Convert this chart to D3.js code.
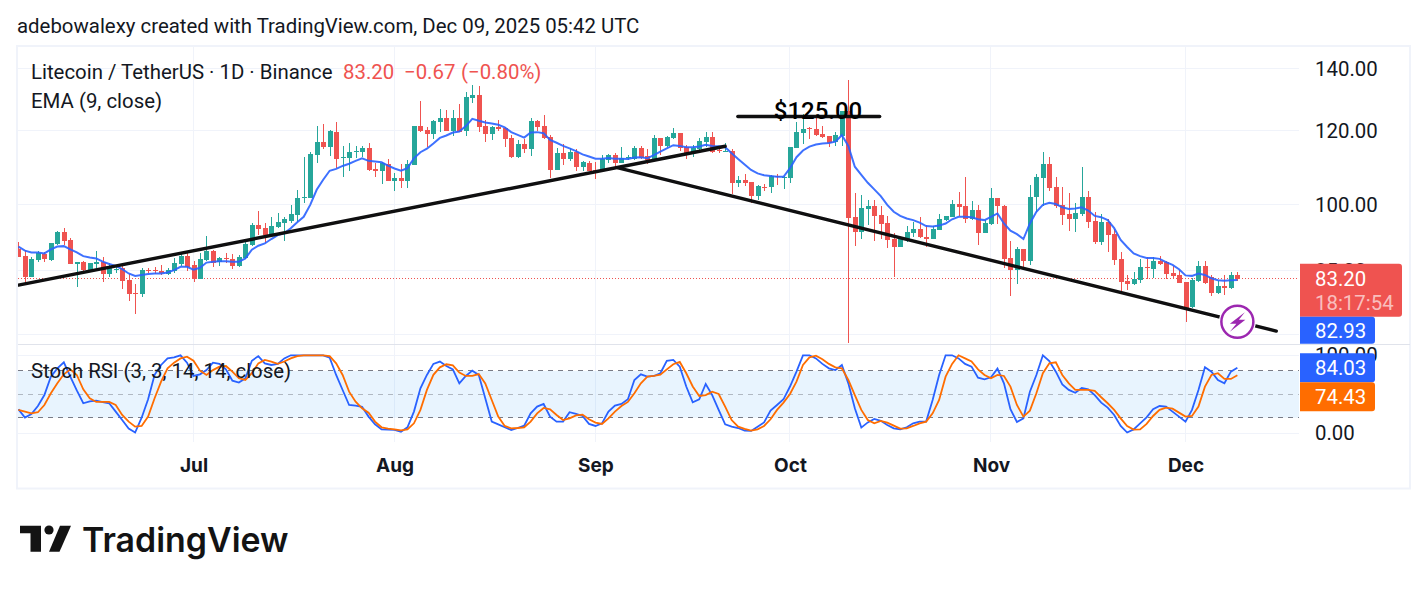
<!DOCTYPE html>
<html>
<head>
<meta charset="utf-8">
<title>LTCUSDT daily</title>
<script src="https://cdn.jsdelivr.net/npm/d3@7/dist/d3.min.js"></script>
<style>
  html, body { margin: 0; padding: 0; background: #fff; }
  svg { display: block; }
  text { font-family: Roboto, sans-serif; fill: #131722; }
</style>
</head>
<body>
<svg id="chart" width="1428" height="591"></svg>
<script>
// Daily LTC/USDT session values, one entry per day from 4 Jun 2025.
const firstSession = "2025-06-04";

const opens = [
  89.5,88.0,83.6,87.2,88.5,87.2,90.7,93.4,91.6,86.2,
  86.8,85.0,86.4,86.8,84.2,85.1,85.4,82.9,80.3,80.1,
  85.0,85.0,84.9,84.2,84.9,86.2,88.0,86.1,83.2,87.2,
  89.2,86.8,87.5,87.4,85.9,87.5,90.5,95.0,94.4,92.7,
  94.5,95.6,96.1,97.5,101.7,101.7,113.0,116.7,115.4,119.7,
  112.3,112.2,114.0,113.9,115.0,109.2,108.5,110.5,106.1,106.8,
  106.1,110.3,121.4,120.2,119.0,122.5,123.8,119.9,123.8,120.0,
  130.1,131.1,121.4,119.0,121.1,120.8,117.9,112.4,116.1,114.7,
  122.9,121.4,118.2,108.9,113.6,111.9,113.9,109.7,110.8,108.9,
  108.6,111.6,113.0,110.8,112.2,111.9,115.0,112.8,111.6,117.9,
  115.6,117.9,119.4,115.2,113.5,114.7,116.7,118.2,114.3,114.0,
  114.1,105.5,106.2,105.7,102.1,104.4,104.4,107.3,106.9,106.8,
  115.0,119.4,120.7,120.4,119.0,118.5,116.7,118.5,126.1,96.9,
  93.3,99.0,99.6,97.4,95.5,91.8,90.0,91.6,93.2,94.1,
  92.3,91.8,93.9,96.2,96.9,100.1,99.6,96.5,98.6,93.2,
  95.3,101.6,99.6,87.6,85.0,89.6,86.9,101.9,106.8,110.5,
  104.4,99.9,97.7,96.5,97.7,101.9,96.0,91.1,95.8,93.0,
  87.4,82.7,82.1,82.9,85.7,85.2,86.9,86.8,84.4,84.0,
  82.6,77.6,82.7,85.9,83.6,80.3,81.7,81.3,83.9
];
const highs = [
  91.1,89.4,87.7,89.2,88.8,90.9,93.7,94.3,92.0,86.8,
  87.0,86.6,89.1,87.7,86.5,85.9,86.1,84.1,82.1,85.4,
  85.5,85.6,86.1,85.4,87.5,88.6,88.6,87.0,88.6,92.5,
  89.4,87.9,88.6,88.5,88.3,91.6,95.4,98.4,95.6,97.0,
  98.0,97.0,99.9,103.7,112.4,114.0,121.3,122.0,120.1,122.5,
  115.6,116.3,115.6,115.6,116.3,110.7,111.2,111.9,108.0,110.4,
  111.6,121.4,129.2,121.0,123.2,126.7,126.3,126.3,128.2,132.1,
  134.4,134.1,123.2,121.4,123.2,121.2,118.8,117.3,117.5,123.8,
  123.2,124.7,118.7,115.0,116.2,115.0,114.6,111.4,111.3,111.2,
  113.0,113.3,113.5,115.2,113.0,115.6,115.6,114.7,118.8,117.9,
  118.5,120.8,119.4,115.9,115.9,117.8,119.5,119.6,115.6,116.3,
  114.7,107.3,107.8,105.7,104.9,105.2,107.5,107.8,107.3,115.3,
  122.7,125.0,121.0,124.1,121.4,118.5,119.6,126.1,136.1,102.8,
  102.4,101.1,101.1,99.6,97.2,93.1,92.1,94.8,95.8,96.9,
  95.0,94.7,97.6,97.2,101.1,103.1,106.9,100.9,99.9,96.2,
  104.2,101.6,99.9,91.4,90.0,89.6,105.0,107.8,113.9,112.5,
  107.0,104.4,102.9,100.4,109.7,103.4,98.2,97.7,96.5,94.1,
  88.9,84.0,84.6,87.4,87.8,87.8,88.0,86.9,85.9,85.0,
  82.6,83.3,86.9,86.9,84.0,82.7,84.0,84.6,84.6
];
const lows = [
  87.7,82.3,83.6,86.8,86.8,86.9,90.5,90.5,86.2,81.6,
  84.5,84.7,85.4,82.6,83.6,84.5,81.1,78.7,76.3,79.6,
  84.3,84.1,83.9,83.9,84.5,85.9,84.9,82.6,83.2,86.9,
  85.7,85.9,86.6,85.3,85.7,87.3,90.2,92.7,90.8,92.3,
  94.3,91.4,95.4,95.8,100.3,101.5,110.9,114.7,112.7,109.4,
  106.9,108.5,112.1,112.4,108.5,106.9,105.2,106.1,103.5,104.2,
  104.2,110.3,119.6,115.2,117.6,119.5,119.9,118.6,119.7,118.6,
  128.6,119.5,116.8,117.3,119.9,115.2,112.3,112.1,113.5,112.8,
  119.8,117.5,106.8,108.9,110.3,111.3,108.6,108.5,108.6,106.5,
  108.3,110.7,109.6,110.8,111.5,111.6,111.8,110.6,111.4,113.0,
  115.2,117.6,114.1,112.0,112.4,113.5,115.2,113.7,113.7,113.8,
  102.5,104.5,104.8,100.3,101.1,103.3,103.0,104.9,104.0,105.5,
  115.0,116.0,117.6,118.6,117.8,115.3,115.6,115.6,70.9,90.2,
  91.7,95.0,91.4,91.7,89.8,83.6,90.0,91.1,92.3,92.1,
  90.1,91.8,93.9,96.1,96.9,97.2,95.4,96.2,90.4,93.2,
  95.0,95.3,85.4,79.7,82.1,85.4,86.1,98.2,99.5,103.4,
  99.1,95.0,93.6,93.4,97.2,94.4,90.7,90.5,88.9,86.1,
  80.1,80.9,81.9,82.3,83.2,83.4,86.1,83.2,83.2,82.3,
  74.7,77.4,82.6,82.1,79.7,80.1,79.9,81.1,82.7
];
const closes = [
  87.7,83.6,87.4,88.6,87.3,90.9,93.5,91.4,86.2,86.8,
  85.0,86.5,86.8,84.2,85.4,85.2,82.8,80.1,80.2,85.0,
  84.9,84.9,84.3,85.0,86.5,88.1,85.7,83.2,87.4,89.2,
  86.6,87.6,87.4,85.9,87.8,90.7,95.0,94.1,92.7,94.8,
  95.8,96.5,97.7,101.6,101.9,113.3,116.7,115.4,119.8,112.0,
  112.5,113.9,114.1,115.0,108.9,108.5,110.7,106.1,106.8,106.1,
  110.4,121.4,119.9,119.0,122.9,123.8,119.9,123.8,119.7,130.5,
  131.1,121.2,119.1,121.1,120.5,117.6,112.5,116.2,114.8,122.9,
  121.0,117.9,108.9,113.6,111.9,113.9,109.7,111.0,108.6,108.6,
  111.9,113.0,110.8,112.2,112.4,115.0,112.3,111.6,117.9,115.6,
  118.2,119.4,115.1,113.5,115.1,117.0,118.2,114.0,114.1,114.1,
  105.5,106.2,105.5,102.1,104.7,104.3,107.2,107.0,107.1,115.3,
  119.6,120.4,120.4,118.8,118.2,116.5,118.8,126.1,96.8,93.3,
  99.1,99.6,97.2,95.3,91.6,90.0,91.8,93.4,94.1,92.2,
  91.8,94.1,96.5,97.2,100.1,99.4,96.5,98.6,93.2,95.5,
  101.6,99.5,87.4,85.0,89.6,86.9,101.9,107.0,110.5,104.2,
  99.6,97.4,96.5,97.9,101.9,95.8,91.1,95.8,92.7,87.2,
  82.6,82.1,83.2,85.7,85.5,86.9,86.4,84.2,83.8,82.3,
  77.4,82.9,85.9,82.3,80.3,81.7,81.4,83.9,83.2
];

// EMA (9, close) overlay
const emaValues = [
  90.1,89.2,88.8,88.8,88.6,89.5,90.1,90.2,89.5,88.8,
  88,87.7,87.5,86.8,86.3,85.9,85.2,84.3,83.8,84,
  84.2,84.3,84.3,84.5,85,85.7,85.7,85.1,85.5,86.6,
  86.8,86.9,86.9,86.8,86.8,87.5,89.4,90.3,90.8,91.8,
  92.7,93.1,94.3,95.7,97,99.9,103.7,106.3,108.7,109.2,
  110,110.6,111.4,112.1,111.4,111.2,111,110.1,109.3,108.7,
  109.4,112.1,113.8,114.8,116.3,117.9,118.6,119.5,119.8,121.4,
  123.6,123,122.5,122.2,121.8,121,119.6,118.8,118,119.5,
  119.6,119.3,117.3,116.5,115.6,114.9,114.1,113.2,112.6,112,
  112,112.2,112,112,111.9,112.3,112.4,112.1,113,114,
  114.9,115.8,115.6,115.2,115.2,115.4,115.9,115.6,115.5,115.2,
  113.5,111.9,110.4,108.9,108,107.5,107.3,107.1,107.1,109.4,
  112.4,114.3,115.4,116,116.3,116.4,116.8,118.7,115.6,109.8,
  107.6,105.5,103.8,102.1,99.9,98.2,97.2,96.6,96.2,95.6,
  94.8,94.7,94.9,95.4,96.4,97,97,96.9,96.4,96.2,
  97,97.8,95.4,93.7,92.9,91.8,95.4,98.2,99.9,100.4,
  100.1,99.3,98.9,99,99.3,98.5,97.2,96.9,96.2,94.3,
  91.6,90,88.6,88,87.6,87.6,87.4,86.7,86.1,85.2,
  83.9,83.8,84.3,84,83.3,82.9,82.8,82.9,82.93
];

// Stoch RSI %K and %D
const stochK = [
  30.8,20.1,24.8,35,49,72.6,83.3,91,72.6,55,
  38.5,41,42,40,38.5,27.8,17,6,1,20,
  43.6,75,87.6,96,97.4,100,90.6,73.5,75.6,81,
  90.6,89,82,67.5,65,70.5,93,99,89.7,87.6,
  89,96,100,100,100,100,100,100,97,74.8,
  55.5,36.3,35.5,34,21.4,11.5,5,4.7,4.3,2,
  7.7,27.8,57.7,74.8,89,91.9,86.3,82,64.1,73.5,
  80.3,74.8,44.9,15,11.5,7.7,4.3,6.8,9.8,25.6,
  34.2,37.6,21.4,15,15,27,24.8,22.2,12,9.4,
  12.8,27.8,35.5,37.6,43.6,68.4,75.6,72.6,73.5,77,
  93,94,85.5,60,39.7,43.6,63.2,49,30,11.5,
  8.5,6.8,3.4,3,8.5,14,29,36.3,43.6,60,
  79,100,100,96,89,83.3,81,87.6,64,32,
  7.3,14,18.4,16,10.7,6.4,5,7.7,12.8,15,
  15,42.7,74.8,100,100,96,89,85.5,71.4,69.2,
  71.8,82.9,64.1,30.8,14.5,19.2,53.4,74.8,100,92.7,
  79,62.8,55.6,52,58,56.4,49,39.3,32.9,23.5,
  9.4,1,5,12.8,20.5,30.8,35,34.2,27.8,21.4,
  15,30,55.6,84.6,79,68.4,64.1,79,84.03
];
const stochD = [
  30,27.8,25.6,27,36.3,51.3,64.1,75.6,82,74.8,
  56.4,44.9,40.2,40.2,40.2,36.3,23.5,15,8.5,9.4,
  21.4,44.9,66.2,83.3,90.6,96,98.3,93,80.3,74.8,
  81,85.5,86.3,79,70.5,68.4,77,89.7,94,92,
  89,92,96,99,100,100,100,100,99,89.7,
  74.8,53.4,40.6,32,26.5,15,7.7,6,5,3.8,
  5,12.8,30,55.6,75,84.6,88.5,87,77.8,73.5,
  73.5,76,64,42.7,21.4,9.4,6.4,6.8,7.7,15,
  25.6,32.5,30.8,23.5,17,19.2,23,24,18,13.7,
  12,19.2,27.8,35,40.2,51.3,64.1,72.6,73.5,75.2,
  82,88.5,91.5,77,60,47.9,49,53.4,50.4,34.2,
  17,8.5,5.6,3.4,5,9.4,18,30,39.3,50.4,
  66.2,87.6,97.4,99.6,94.9,89,84.6,83.3,68.4,49,
  30,17,12.8,15.8,13.7,9.8,6,6.4,9.4,12.8,
  15,25.6,42.7,72.6,89,100,96,92,82,74.8,
  70.5,74.8,73.5,59.8,36.3,21.4,29,51.3,77,89.7,
  91,74.8,64.1,55.6,55.6,55.6,54.3,46.2,38.5,30,
  19.2,9.4,4.7,5,12,22.2,30,33,31.6,26.5,
  21.4,22.2,34.2,59.8,74.8,77,69.7,69.7,74.43
];

// Axis ticks
const monthTicks = ["2025-07-01","2025-08-01","2025-09-01","2025-10-01","2025-11-01","2025-12-01"];
const monthLabels = ["Jul","Aug","Sep","Oct","Nov","Dec"];
const priceTicks = [140, 120, 100, 85];
const priceGrid = [140, 120, 100, 85, 72.5];
const stochTicks = [100, 0];
const stochLevels = [80, 50, 20];

// Hand-drawn trend annotations: [date, price] end points
const risingTrend = [["2025-06-04", 81.9], ["2025-09-21", 115.5]];
const fallingTrend = [["2025-09-04T12:00Z", 109.5], ["2025-12-15T00:00Z", 73.1]];
const targetLevel = [["2025-09-22T23:00Z", 124.3], ["2025-10-14T20:00Z", 124.3]];
const targetLabel = "$125.00";
const signalMarker = ["2025-12-09", 74.8];

// Last-value tags
const lastPrice = 83.20, lastChange = -0.67, lastChangePct = -0.80, countdown = "18:17:54";
const lastEma = 82.93, lastK = 84.03, lastD = 74.43;

const palette = { up: "#26a69a", down: "#ef5350", grid: "#f0f3fa", frame: "#f0f3fa", sep: "#e0e3eb",
                  blue: "#2962ff", orange: "#ff6d00", purple: "#9c27b0", ink: "#131722", trend: "#0f0f10" };
const labelSize = 20.4;

const svg = d3.select("#chart");
const parseDay = s => new Date(s.length === 10 ? s + "T00:00:00Z" : s);
const start = parseDay(firstSession);
const dates = closes.map((_, i) => d3.utcDay.offset(start, i));

const plot = { left: 18, right: 1299, top: 46, paneBottom: 344.5, bottom: 442 };

const x = d3.scaleUtc().domain([parseDay(monthTicks[0]), parseDay(monthTicks[5])]).range([193.5, 1185.5]);
const y = d3.scaleLog().domain([72.5, 140]).range([334.4, 68.5]);
const yStoch = d3.scaleLinear().domain([0, 100]).range([433.3, 355.3]);

// Frame
svg.append("rect").attr("x", 17).attr("y", 46).attr("width", 1393).attr("height", 442.5)
  .attr("fill", "#fff").attr("stroke", palette.frame).attr("stroke-width", 2);

const defs = svg.append("defs");
defs.append("clipPath").attr("id", "pricePane").append("rect")
  .attr("x", plot.left).attr("y", plot.top).attr("width", plot.right - plot.left).attr("height", plot.paneBottom - plot.top);
defs.append("clipPath").attr("id", "stochPane").append("rect")
  .attr("x", plot.left).attr("y", plot.paneBottom).attr("width", plot.right - plot.left).attr("height", plot.bottom - plot.paneBottom);

// Grid
const grid = svg.append("g").attr("shape-rendering", "crispEdges").attr("stroke", palette.grid);
grid.selectAll(".vgrid").data(monthTicks).join("line").attr("class", "vgrid")
  .attr("x1", d => x(parseDay(d))).attr("x2", d => x(parseDay(d))).attr("y1", plot.top).attr("y2", plot.bottom);
grid.selectAll(".hgrid").data(priceGrid).join("line").attr("class", "hgrid")
  .attr("x1", plot.left).attr("x2", plot.right).attr("y1", d => y(d)).attr("y2", d => y(d));
grid.selectAll(".sgrid").data(stochTicks).join("line").attr("class", "sgrid")
  .attr("x1", plot.left).attr("x2", plot.right).attr("y1", d => yStoch(d)).attr("y2", d => yStoch(d));

// Pane separator
svg.append("line").attr("x1", plot.left).attr("x2", plot.right + 111).attr("y1", plot.paneBottom).attr("y2", plot.paneBottom)
  .attr("stroke", palette.sep).attr("shape-rendering", "crispEdges");

// Stoch band and levels
svg.append("rect").attr("x", plot.left).attr("width", plot.right - plot.left)
  .attr("y", yStoch(stochLevels[0])).attr("height", yStoch(stochLevels[2]) - yStoch(stochLevels[0]))
  .attr("fill", "#2196f3").attr("fill-opacity", 0.1);
svg.selectAll(".level").data(stochLevels).join("line").attr("class", "level")
  .attr("x1", plot.left).attr("x2", plot.right).attr("y1", d => yStoch(d)).attr("y2", d => yStoch(d))
  .attr("stroke", "#787b86").attr("stroke-dasharray", "5 5").attr("shape-rendering", "crispEdges")
  .attr("stroke-opacity", d => d === 50 ? 0.5 : 1);

// Last price line
svg.append("line").attr("x1", plot.left).attr("x2", plot.right).attr("y1", y(lastPrice)).attr("y2", y(lastPrice))
  .attr("stroke", palette.down).attr("stroke-dasharray", "1 2").attr("shape-rendering", "crispEdges");

// Candles
const candles = svg.append("g").attr("clip-path", "url(#pricePane)");
const rows = d3.range(closes.length).map(i => ({ date: dates[i], o: opens[i], h: highs[i], l: lows[i], c: closes[i] }));
const colour = d => d.c >= d.o ? palette.up : palette.down;
const snap = v => Math.round(v) + 0.5;
candles.selectAll(".wick").data(rows).join("line").attr("class", "wick")
  .attr("x1", d => snap(x(d.date))).attr("x2", d => snap(x(d.date)))
  .attr("y1", d => y(d.h)).attr("y2", d => y(d.l))
  .attr("stroke", colour).attr("shape-rendering", "crispEdges");
candles.selectAll(".body").data(rows).join("rect").attr("class", "body")
  .attr("x", d => snap(x(d.date)) - 2.5).attr("width", 5)
  .attr("y", d => y(Math.max(d.o, d.c)))
  .attr("height", d => Math.max(1, Math.abs(y(d.o) - y(d.c))))
  .attr("fill", colour).attr("shape-rendering", "crispEdges");

// EMA overlay
const emaLine = d3.line().x((d, i) => x(dates[i])).y(d => y(d));
candles.append("path").attr("d", emaLine(emaValues)).attr("fill", "none")
  .attr("stroke", palette.blue).attr("stroke-width", 2).attr("stroke-opacity", 0.9);

// Trend annotations
const trendLine = d3.line().x(d => x(parseDay(d[0]))).y(d => y(d[1]));
const drawings = svg.append("g").attr("clip-path", "url(#pricePane)");
[risingTrend, fallingTrend, targetLevel].forEach(seg => {
  drawings.append("path").attr("d", trendLine(seg)).attr("stroke", palette.trend)
    .attr("stroke-width", 3.4).attr("stroke-linecap", "round").attr("fill", "none");
});
svg.append("text").attr("x", 818).attr("y", 118.5).attr("text-anchor", "middle")
  .attr("font-size", 24).attr("font-weight", 500).style("fill", "#000").text(targetLabel);

// Signal marker
const markerPos = [x(parseDay(signalMarker[0])), y(signalMarker[1])];
const marker = svg.append("g").attr("transform", `translate(${markerPos[0]},${markerPos[1]})`);
marker.append("circle").attr("r", 18.5).attr("fill", "#fff");
marker.append("circle").attr("r", 16).attr("fill", "#fff").attr("stroke", palette.purple).attr("stroke-width", 2.5);
marker.append("path").attr("d", "M7.5,-9.5 L-7.5,2 L-1,2 L-7.5,10 L8,-2 L1.5,-2 Z").attr("fill", palette.purple);

// Stoch RSI lines
const stochG = svg.append("g").attr("clip-path", "url(#stochPane)");
const stochLine = d3.line().x((d, i) => x(dates[i])).y(d => yStoch(d));
stochG.append("path").attr("d", stochLine(stochK)).attr("fill", "none").attr("stroke", palette.blue).attr("stroke-width", 1.8);
stochG.append("path").attr("d", stochLine(stochD)).attr("fill", "none").attr("stroke", palette.orange).attr("stroke-width", 1.8);

// Time axis
const timeAxis = d3.axisBottom(x).tickValues(monthTicks.map(parseDay)).tickSize(0)
  .tickFormat((d, i) => monthLabels[i]);
const timeG = svg.append("g").attr("transform", "translate(0,453)").call(timeAxis);
timeG.select(".domain").remove();
timeG.selectAll("text").attr("font-size", 19).attr("font-weight", 700).attr("dy", "0.85em")
  .style("font-family", "Inter, Roboto, sans-serif").style("fill", palette.ink);

// Price and stoch axes
const priceAxis = d3.axisRight(y).tickValues(priceTicks).tickFormat(d3.format(".2f")).tickSize(0).tickPadding(0);
const priceG = svg.append("g").attr("transform", "translate(1315,0.5)").call(priceAxis);
priceG.select(".domain").remove();
const stochAxis = d3.axisRight(yStoch).tickValues(stochTicks).tickFormat(d3.format(".2f")).tickSize(0).tickPadding(0);
const stochAxisG = svg.append("g").attr("transform", "translate(1315,0)").call(stochAxis);
stochAxisG.select(".domain").remove();
svg.selectAll(".tick text").filter(function () { return this.parentNode.parentNode !== timeG.node(); })
  .attr("font-size", labelSize).style("fill", palette.ink);

// Value tags
function tag(top, height, width, fill, lines) {
  const g = svg.append("g");
  const r = 3;
  g.append("path").attr("d",
    `M1300,${top} H${1300 + width - r} a${r},${r} 0 0 1 ${r},${r} V${top + height - r} a${r},${r} 0 0 1 ${-r},${r} H1300 Z`)
    .attr("fill", fill);
  lines.forEach(l => g.append("text").attr("x", 1315).attr("y", l.y).attr("font-size", labelSize)
    .style("fill", l.fill || "#fff").text(l.text));
}
const fmt = d3.format(".2f");
const priceTop = y(lastPrice) - 15;
tag(priceTop, 53, 102, palette.down, [
  { y: priceTop + 22, text: fmt(lastPrice) },
  { y: priceTop + 46, text: countdown, fill: "rgba(255,255,255,0.65)" }
]);
const emaTop = priceTop + 53;
tag(emaTop, 27, 75, palette.blue, [{ y: emaTop + 21, text: fmt(lastEma) }]);
const kTop = yStoch(lastK) - 14.5;
tag(kTop, 29, 75, palette.blue, [{ y: kTop + 22, text: fmt(lastK) }]);
const dTop = kTop + 29;
tag(dTop, 29, 75, palette.orange, [{ y: dTop + 22, text: fmt(lastD) }]);

// Legends
const minus = "\u2212";
svg.append("text").attr("x", 31).attr("y", 79).attr("font-size", labelSize)
  .text("Litecoin / TetherUS \u00b7 1D \u00b7 Binance");
const quote = svg.append("text").attr("y", 79).attr("font-size", labelSize).style("fill", palette.down);
quote.append("tspan").attr("x", 343).text(fmt(lastPrice));
quote.append("tspan").attr("x", 404).text(`${minus}${fmt(Math.abs(lastChange))}`);
quote.append("tspan").attr("x", 461).text(`(${minus}${fmt(Math.abs(lastChangePct))}%)`);
svg.append("text").attr("x", 31).attr("y", 108).attr("font-size", labelSize).text("EMA (9, close)");
svg.append("text").attr("x", 31).attr("y", 378).attr("font-size", labelSize).text("Stoch RSI (3, 3, 14, 14, close)");

// Header
svg.append("text").attr("x", 17).attr("y", 33).attr("font-size", labelSize)
  .text("adebowalexy created with TradingView.com, Dec 09, 2025 05:42 UTC");

// Brand mark
const brand = svg.append("g").attr("fill", "#131313");
brand.append("path").attr("d", "M20,525.7 H41 V551.7 H30.5 V533.3 H20 Z");
brand.append("circle").attr("cx", 49).attr("cy", 530).attr("r", 4.6);
brand.append("path").attr("d", "M60,525.7 H71 L59.5,551.7 H49 Z");
svg.append("text").attr("x", 82).attr("y", 552).attr("font-size", 33.9).attr("font-weight", 600)
  .style("font-family", "Inter, Roboto, sans-serif").style("fill", "#131313").text("TradingView");
</script>
</body>
</html>
